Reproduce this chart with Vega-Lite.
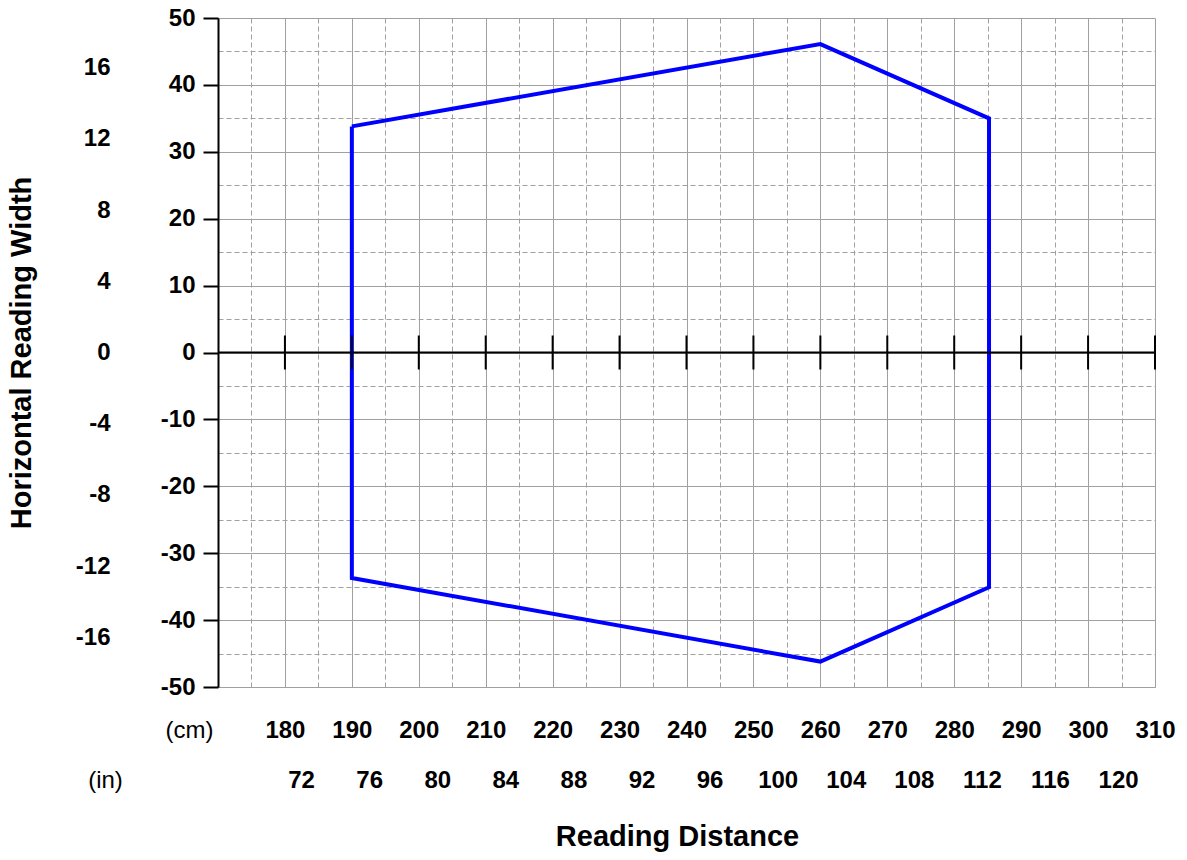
{
  "$schema": "https://vega.github.io/schema/vega-lite/v6.json",
  "width": 937,
  "height": 669,
  "autosize": {"type": "none"},
  "padding": {"left": 218, "top": 18, "right": 32, "bottom": 173},
  "background": "white",
  "config": {
    "font": "Liberation Sans",
    "view": {"stroke": null},
    "axis": {"labelFont": "Liberation Sans", "labelFontSize": 24, "labelFontWeight": "bold", "labelColor": "black", "titleColor": "black", "titleFont": "Liberation Sans", "labelFlush": false, "labelOverlap": false, "labelBound": false}
  },
  "title": {"text": "Reading Distance", "orient": "bottom", "anchor": "middle", "fontSize": 29, "fontWeight": "bold", "font": "Liberation Sans", "color": "black", "offset": 31, "dx": -9},
  "datasets": {
    "hex": [
      {"i": 0, "d": 190, "w": 33.8},
      {"i": 1, "d": 260, "w": 46.1},
      {"i": 2, "d": 285.2, "w": 35.0},
      {"i": 3, "d": 285.2, "w": -35.1},
      {"i": 4, "d": 260, "w": -46.2},
      {"i": 5, "d": 190, "w": -33.7},
      {"i": 6, "d": 190, "w": 33.8}
    ],
    "zeroticks": [
      {"d": 180}, {"d": 190}, {"d": 200}, {"d": 210}, {"d": 220}, {"d": 230}, {"d": 240},
      {"d": 250}, {"d": 260}, {"d": 270}, {"d": 280}, {"d": 290}, {"d": 300}, {"d": 310}
    ],
    "inchy": [{"in": -16}, {"in": -12}, {"in": -8}, {"in": -4}, {"in": 0}, {"in": 4}, {"in": 8}, {"in": 12}, {"in": 16}],
    "inchx": [{"in": 72}, {"in": 76}, {"in": 80}, {"in": 84}, {"in": 88}, {"in": 92}, {"in": 96}, {"in": 100}, {"in": 104}, {"in": 108}, {"in": 112}, {"in": 116}, {"in": 120}]
  },
  "layer": [
    {
      "data": {"name": "hex"},
      "mark": {"type": "line", "color": "#0000ff", "strokeWidth": 4, "strokeJoin": "miter"},
      "encoding": {
        "x": {
          "field": "d", "type": "quantitative",
          "scale": {"domain": [170, 310], "nice": false, "zero": false},
          "axis": {
            "orient": "bottom",
            "values": [170,175,180,185,190,195,200,205,210,215,220,225,230,235,240,245,250,255,260,265,270,275,280,285,290,295,300,305,310],
            "grid": true, "gridColor": "#a0a0a0", "gridWidth": 1,
            "gridDash": {"condition": {"test": "datum.value % 10 !== 0", "value": [5, 3]}, "value": []},
            "ticks": false,
            "domainColor": "#a0a0a0", "domainWidth": 1,
            "labelExpr": "datum.value >= 180 && datum.value % 10 === 0 ? '' + datum.value : ''",
            "labelPadding": 31,
            "title": "(cm)", "titleFontWeight": "normal", "titleFontSize": 24,
            "titleX": -29, "titleY": 50, "titleAlign": "center", "titleBaseline": "alphabetic"
          }
        },
        "y": {
          "field": "w", "type": "quantitative",
          "scale": {"domain": [-50, 50], "nice": false},
          "axis": {
            "orient": "left",
            "values": [-50,-45,-40,-35,-30,-25,-20,-15,-10,-5,0,5,10,15,20,25,30,35,40,45,50],
            "grid": true, "gridColor": "#a0a0a0", "gridWidth": 1,
            "gridDash": {"condition": {"test": "datum.value % 10 !== 0", "value": [5, 3]}, "value": []},
            "ticks": true, "tickSize": 15, "tickWidth": 2, "tickColor": "black",
            "tickOpacity": {"condition": {"test": "datum.value % 10 !== 0", "value": 0}, "value": 1},
            "domainColor": "black", "domainWidth": 2,
            "labelExpr": "datum.value % 10 === 0 ? '' + datum.value : ''",
            "labelPadding": 8,
            "title": "Horizontal Reading Width", "titleFontSize": 29, "titleFontWeight": "bold",
            "titleAngle": -90, "titleX": -188, "titleY": 334.5, "titleAlign": "center", "titleBaseline": "alphabetic"
          }
        },
        "order": {"field": "i", "type": "quantitative"}
      }
    },
    {
      "data": {"values": [{}]},
      "mark": {"type": "rule", "color": "black", "strokeWidth": 2},
      "encoding": {
        "y": {"datum": 0, "type": "quantitative", "scale": {"domain": [-50, 50], "nice": false}, "axis": null}
      }
    },
    {
      "data": {"name": "zeroticks"},
      "mark": {"type": "tick", "color": "black", "orient": "vertical", "size": 34, "thickness": 2, "opacity": 1},
      "encoding": {
        "x": {"field": "d", "type": "quantitative", "scale": {"domain": [170, 310], "nice": false, "zero": false}, "axis": null},
        "y": {"datum": 0, "type": "quantitative", "scale": {"domain": [-50, 50], "nice": false}, "axis": null}
      }
    },
    {
      "data": {"name": "inchy"},
      "mark": {"type": "point", "opacity": 0},
      "encoding": {
        "y": {
          "field": "in", "type": "quantitative",
          "scale": {"domain": [-18.8, 18.8], "nice": false, "zero": false},
          "axis": {
            "orient": "left", "values": [-16,-12,-8,-4,0,4,8,12,16],
            "offset": 100, "labelPadding": 8, "domain": false, "ticks": false, "grid": false,
            "labelExpr": "'' + datum.value", "title": null
          }
        }
      }
    },
    {
      "data": {"name": "inchx"},
      "mark": {"type": "point", "opacity": 0},
      "encoding": {
        "x": {
          "field": "in", "type": "quantitative",
          "scale": {"domain": [67.12, 122.17], "nice": false, "zero": false},
          "axis": {
            "orient": "bottom", "values": [72,76,80,84,88,92,96,100,104,108,112,116,120],
            "offset": 0, "labelPadding": 81, "domain": false, "ticks": false, "grid": false,
            "labelExpr": "'' + datum.value",
            "title": "(in)", "titleFontWeight": "normal", "titleFontSize": 24,
            "titleX": -113, "titleY": 100, "titleAlign": "center", "titleBaseline": "alphabetic"
          }
        }
      }
    }
  ],
  "resolve": {
    "scale": {"x": "independent", "y": "independent"},
    "axis": {"x": "independent", "y": "independent"}
  }
}
